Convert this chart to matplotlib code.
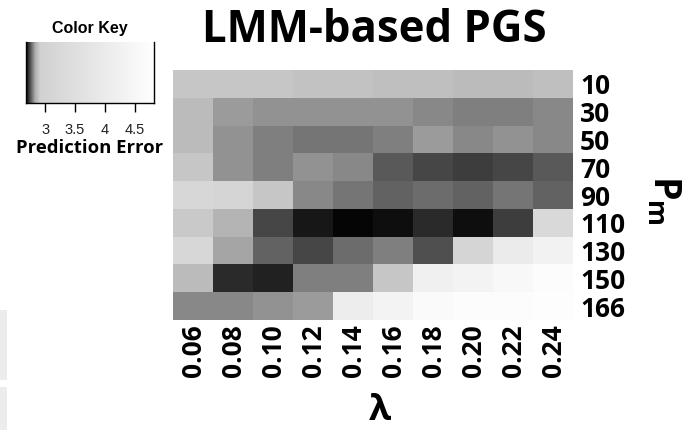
import numpy as np
import matplotlib
matplotlib.use("Agg")
import matplotlib.pyplot as plt
from matplotlib.colors import LinearSegmentedColormap
from matplotlib.patches import Rectangle

plt.rcParams['mathtext.fontset'] = 'custom'
plt.rcParams['mathtext.rm'] = 'Open Sans:bold'
plt.rcParams['mathtext.it'] = 'Open Sans:bold'
plt.rcParams['mathtext.bf'] = 'Open Sans:bold'

# ---- data ----
lambdas = ["0.06", "0.08", "0.10", "0.12", "0.14", "0.16", "0.18", "0.20", "0.22", "0.24"]
pm_labels = ["10", "30", "50", "70", "90", "110", "130", "150", "166"]

err_pm10 = [2.889, 2.889, 2.889, 2.884, 2.884, 2.879, 2.874, 2.870, 2.865, 2.874]
err_pm30 = [2.870, 2.814, 2.809, 2.813, 2.812, 2.810, 2.800, 2.794, 2.794, 2.798]
err_pm50 = [2.867, 2.813, 2.795, 2.787, 2.785, 2.792, 2.814, 2.802, 2.806, 2.800]
err_pm70 = [2.894, 2.808, 2.792, 2.808, 2.798, 2.761, 2.741, 2.732, 2.744, 2.763]
err_pm90 = [3.201, 3.118, 2.894, 2.798, 2.781, 2.765, 2.774, 2.766, 2.788, 2.768]
err_pm110 = [2.899, 2.855, 2.745, 2.702, 2.685, 2.693, 2.721, 2.695, 2.731, 3.284]
err_pm130 = [3.201, 2.823, 2.768, 2.745, 2.775, 2.793, 2.755, 3.118, 4.031, 4.280]
err_pm150 = [2.870, 2.719, 2.711, 2.790, 2.790, 2.894, 4.197, 4.322, 4.529, 4.736]
err_pm166 = [2.802, 2.805, 2.813, 2.814, 4.073, 4.322, 4.612, 4.695, 4.736, 4.778]

key_ticks = [3, 3.5, 4, 4.5]
key_tick_labels = ["3", "3.5", "4", "4.5"]
vmin, vmax = 2.68, 4.82

data = np.array([err_pm10, err_pm30, err_pm50, err_pm70, err_pm90,
                 err_pm110, err_pm130, err_pm150, err_pm166])

cmap = LinearSegmentedColormap.from_list(
    "keygray",
    [(0.0, (0.02, 0.02, 0.02)), (0.03, (0.30, 0.30, 0.30)),
     (0.07, (0.68, 0.68, 0.68)), (0.11, (0.82, 0.82, 0.82)),
     (1.0, (1.0, 1.0, 1.0))])

fig = plt.figure(figsize=(6.83, 4.30), dpi=100)

# ---- heatmap ----
ax = fig.add_axes([173/683, 1-320/430, 400/683, 250/430])
ax.imshow(data, cmap=cmap, vmin=vmin, vmax=vmax, aspect='auto',
          interpolation='nearest')
for s in ax.spines.values():
    s.set_visible(False)
ax.set_xticks(range(len(lambdas)))
ax.set_xticklabels(lambdas, rotation=90, fontsize=19, fontweight='bold',
                   family='Open Sans')
ax.set_yticks(range(len(pm_labels)))
ax.set_yticklabels(pm_labels, fontsize=19, fontweight='bold', family='Open Sans')
ax.yaxis.tick_right()
ax.tick_params(axis='both', length=0, pad=3)
ax.tick_params(axis='y', pad=5)

fig.text(374/683, 1-30/430, "LMM-based PGS", ha='center', va='center',
         fontsize=31.5, fontweight='bold', family='Open Sans')
fig.text(380/683, 1-411/430, "λ", ha='center', va='center',
         fontsize=26, fontweight='bold', family='Open Sans')
fig.text(664/683, 1-200/430, r"$P_m$", ha='center', va='center',
         fontsize=27, rotation=-90)

# ---- color key ----
kax = fig.add_axes([26/683, 1-103/430, 128/683, 61/430])
grad = np.linspace(vmin, vmax, 512).reshape(1, -1)
kax.imshow(grad, cmap=cmap, vmin=vmin, vmax=vmax, aspect='auto',
           extent=[vmin, vmax, 0, 1], interpolation='bilinear')
kax.set_xlim(vmin, vmax)
kax.set_yticks([])
kax.set_xticks(key_ticks)
kax.set_xticklabels(key_tick_labels, fontsize=10.5, family='Liberation Sans',
                    color='#222222')
kax.tick_params(axis='x', length=6.5, width=1, pad=8, direction='out')
kax.spines['top'].set_visible(False)
for s in ['left', 'right', 'bottom']:
    kax.spines[s].set_linewidth(1)
fig.text(90/683, 1-28/430, "Color Key", ha='center', va='center',
         fontsize=11.5, fontweight='bold', family='Liberation Sans')
fig.text(90/683, 1-148/430, "Prediction Error", ha='center', va='center',
         fontsize=13.3, fontweight='bold', family='Open Sans')

# faint page remnants at the left edge
fig.patches.append(Rectangle((0, 1-380/430), 7/683, 70/430, transform=fig.transFigure,
                             facecolor='#ececec', edgecolor='none'))
fig.patches.append(Rectangle((0, 0), 7/683, 43/430, transform=fig.transFigure,
                             facecolor='#ececec', edgecolor='none'))

fig.savefig("out.png", dpi=100)
